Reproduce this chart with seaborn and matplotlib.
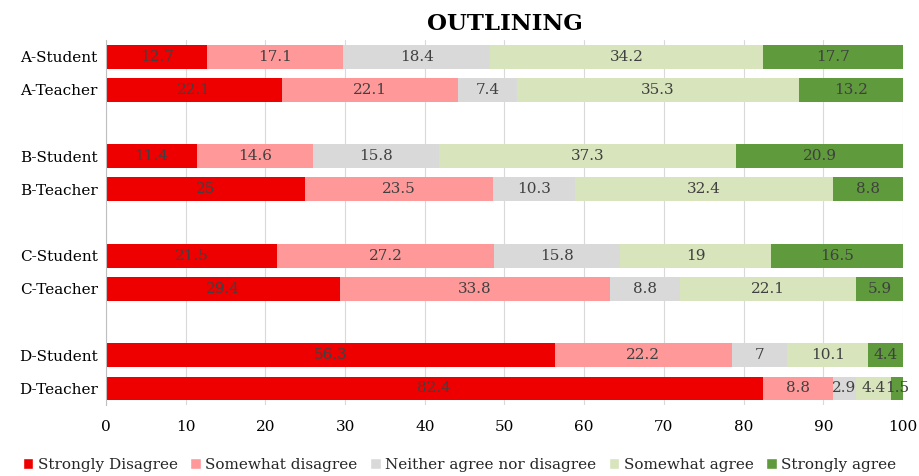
import numpy as np
import pandas as pd
import seaborn as sns
import matplotlib.pyplot as plt
from matplotlib.patches import Patch

groups = ["A-Student", "A-Teacher", "B-Student", "B-Teacher",
          "C-Student", "C-Teacher", "D-Student", "D-Teacher"]
levels = ["Strongly Disagree", "Somewhat disagree", "Neither agree nor disagree",
          "Somewhat agree", "Strongly agree"]
strongly_disagree = [12.7, 22.1, 11.4, 25, 21.5, 29.4, 56.3, 82.4]
somewhat_disagree = [17.1, 22.1, 14.6, 23.5, 27.2, 33.8, 22.2, 8.8]
neither = [18.4, 7.4, 15.8, 10.3, 15.8, 8.8, 7, 2.9]
somewhat_agree = [34.2, 35.3, 37.3, 32.4, 19, 22.1, 10.1, 4.4]
strongly_agree = [17.7, 13.2, 20.9, 8.8, 16.5, 5.9, 4.4, 1.5]
colors = ["#EE0000", "#FF9999", "#D9D9D9", "#D8E4BC", "#5F9A3C"]

# category order with blank spacer rows between the groups
order = ["A-Student", "A-Teacher", " ", "B-Student", "B-Teacher", "  ",
         "C-Student", "C-Teacher", "   ", "D-Student", "D-Teacher"]

df = pd.DataFrame({"group": groups})
vals = [strongly_disagree, somewhat_disagree, neither, somewhat_agree, strongly_agree]
for lv, v in zip(levels, vals):
    df[lv] = v
cum = df[levels].cumsum(axis=1)

sns.set_style("white")
plt.rcParams['font.family'] = ['DejaVu Serif']

fig = plt.figure(figsize=(9.19, 4.76), dpi=100)
ax = fig.add_axes([0.1153, 0.149, 0.8673, 0.767])

# overlay cumulative bars, longest first
for lv, c in reversed(list(zip(levels, colors))):
    sns.barplot(x=cum[lv], y=df["group"], order=order, color=c, width=0.72,
                orient="h", saturation=1, ax=ax, edgecolor="none")

# value labels centred in each segment
for i, g in enumerate(groups):
    ypos = order.index(g)
    for j, lv in enumerate(levels):
        v = df.loc[i, lv]
        mid = cum.loc[i, lv] - v / 2
        ax.text(mid, ypos, f"{v:g}", ha="center", va="center",
                fontsize=11, color="#404040")

ax.set_xlim(0, 100)
ax.set_xticks(range(0, 101, 10))
ax.grid(axis="x", color="#D9D9D9", linewidth=0.8)
ax.set_axisbelow(True)
for s in ["top", "right", "bottom"]:
    ax.spines[s].set_visible(False)
ax.spines["left"].set_color("#BFBFBF")
ax.tick_params(axis="x", length=0, pad=11, labelsize=11, labelcolor="black")
ax.tick_params(axis="y", length=0, pad=6, labelsize=11, labelcolor="black")
ax.set_xlabel("")
ax.set_ylabel("")
ax.set_title("OUTLINING", fontsize=16.5, fontweight="bold", color="black", pad=7)

handles = [Patch(facecolor=c, label=lv) for lv, c in zip(levels, colors)]
fig.legend(handles=handles, loc="lower center", ncol=5, frameon=False,
           bbox_to_anchor=(0.5, -0.02), fontsize=11, handlelength=0.7,
           handleheight=0.7, handletextpad=0.3, columnspacing=0.8)

fig.savefig("out.png", dpi=100)
